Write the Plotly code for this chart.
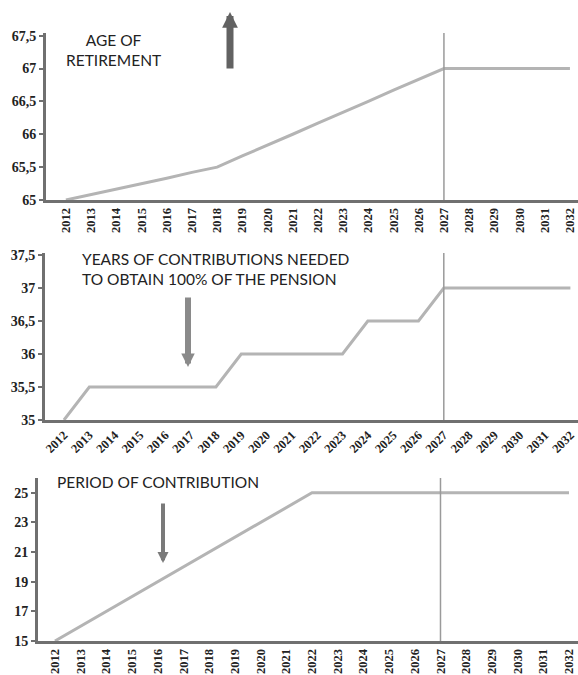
import plotly.graph_objects as go

W, H = 578, 675

years = list(range(2012, 2033))
year_labels = [str(y) for y in years]

# Age of retirement
age_retirement = [65.0, 65.08, 65.17, 65.25, 65.33, 65.42, 65.5, 65.67, 65.83, 66.0,
                  66.17, 66.33, 66.5, 66.67, 66.83, 67.0, 67.0, 67.0, 67.0, 67.0, 67.0]
# Years of contributions needed to obtain 100% of the pension
years_contrib = [35.0, 35.5, 35.5, 35.5, 35.5, 35.5, 35.5, 36.0, 36.0, 36.0,
                 36.0, 36.0, 36.5, 36.5, 36.5, 37.0, 37.0, 37.0, 37.0, 37.0, 37.0]
# Period of contribution
period_contrib = [15, 16, 17, 18, 19, 20, 21, 22, 23, 24,
                  25, 25, 25, 25, 25, 25, 25, 25, 25, 25, 25]

reform_year = 2027

y1_ticks = [65, 65.5, 66, 66.5, 67, 67.5]
y1_text = ["65", "65,5", "66", "66,5", "67", "67,5"]
y2_ticks = [35, 35.5, 36, 36.5, 37, 37.5]
y2_text = ["35", "35,5", "36", "36,5", "37", "37,5"]
y3_ticks = [15, 17, 19, 21, 23, 25]
y3_text = ["15", "17", "19", "21", "23", "25"]

def fx(px):
    return px / W

def fy(py):
    return 1 - py / H

LINE_COL = "#b4b4b4"
AXIS_COL = "#707070"
XTICK_FONT = dict(family="Liberation Serif", size=12.5, color="#222", weight="bold")
YTICK_FONT = dict(family="Liberation Serif", size=14, color="#222", weight="bold")

fig = go.Figure()
fig.add_trace(go.Scatter(x=years, y=age_retirement, mode="lines",
                         line=dict(color=LINE_COL, width=3), xaxis="x", yaxis="y"))
fig.add_trace(go.Scatter(x=years, y=years_contrib, mode="lines",
                         line=dict(color=LINE_COL, width=3), xaxis="x2", yaxis="y2"))
fig.add_trace(go.Scatter(x=years, y=period_contrib, mode="lines",
                         line=dict(color=LINE_COL, width=3), xaxis="x3", yaxis="y3"))

def xax(domain, rng, angle, anchor):
    return dict(domain=domain, range=rng, anchor=anchor, tickmode="array",
                tickvals=years, ticktext=year_labels, tickangle=angle,
                tickfont=XTICK_FONT, showline=True, linewidth=3, linecolor=AXIS_COL,
                showgrid=False, zeroline=False, ticks="", fixedrange=True,
                ticklabeloverflow="allow", automargin=False)

def yax(domain, rng, tv, tt, anchor):
    return dict(domain=domain, range=rng, anchor=anchor, tickmode="array",
                tickvals=tv, ticktext=tt, tickfont=YTICK_FONT, showline=True,
                linewidth=3, linecolor=AXIS_COL, showgrid=False, zeroline=False,
                ticks="outside", ticklen=4, tickwidth=2, tickcolor=AXIS_COL,
                fixedrange=True, automargin=False)

fig.update_layout(
    width=W, height=H, margin=dict(l=0, r=0, t=0, b=0, pad=0), autosize=False,
    paper_bgcolor="white", plot_bgcolor="white", showlegend=False,
    xaxis=xax([fx(46), 1], [2011.21, 2032.32], -90, "y"),
    yaxis=yax([fy(200), fy(33)], [65, 67.54], y1_ticks, y1_text, "x"),
    xaxis2=xax([fx(45), 1], [2011.25, 2032.3], -45, "y2"),
    yaxis2=yax([fy(420), fy(253)], [35, 37.53], y2_ticks, y2_text, "x2"),
    xaxis3=xax([fx(38), 1], [2011.34, 2032.35], -90, "y3"),
    yaxis3=yax([fy(641), fy(478)], [15, 26.0], y3_ticks, y3_text, "x3"),
)

for xr, yr in [("x", "y"), ("x2", "y2"), ("x3", "y3")]:
    fig.add_shape(type="line", xref=xr, yref=yr + " domain", x0=reform_year, x1=reform_year,
                  y0=0, y1=1, line=dict(color="#9a9a9a", width=1.5))

TITLE_FONT = dict(family="Lato", size=15.5, color="#222")
fig.add_annotation(xref="paper", yref="paper", x=fx(113), y=fy(50), showarrow=False,
                   xanchor="center", yanchor="middle",
                   text="AGE OF<br>RETIREMENT", font=TITLE_FONT, align="center")
fig.add_annotation(xref="paper", yref="paper", x=fx(80), y=fy(269), showarrow=False,
                   xanchor="left", yanchor="middle",
                   text="YEARS OF CONTRIBUTIONS NEEDED<br>TO OBTAIN 100% OF THE PENSION",
                   font=TITLE_FONT, align="left")
fig.add_annotation(xref="paper", yref="paper", x=fx(55), y=fy(482), showarrow=False,
                   xanchor="left", yanchor="middle",
                   text="PERIOD OF CONTRIBUTION", font=TITLE_FONT)

# arrows
fig.add_annotation(xref="paper", yref="paper", x=fx(230), y=fy(12), ax=0, ay=58,
                   showarrow=True, arrowhead=2, arrowsize=0.45, arrowwidth=7,
                   arrowcolor="#626262", text="")
fig.add_annotation(xref="paper", yref="paper", x=fx(188), y=fy(367), ax=0, ay=-71,
                   showarrow=True, arrowhead=2, arrowsize=0.45, arrowwidth=6,
                   arrowcolor="#8a8a8a", text="")
fig.add_annotation(xref="paper", yref="paper", x=fx(163), y=fy(563), ax=0, ay=-61,
                   showarrow=True, arrowhead=2, arrowsize=0.55, arrowwidth=4,
                   arrowcolor="#7a7a7a", text="")

fig.write_html("out.html", config={"displayModeBar": False},
               post_script="document.body.style.margin='0';document.body.style.overflow='hidden';")
